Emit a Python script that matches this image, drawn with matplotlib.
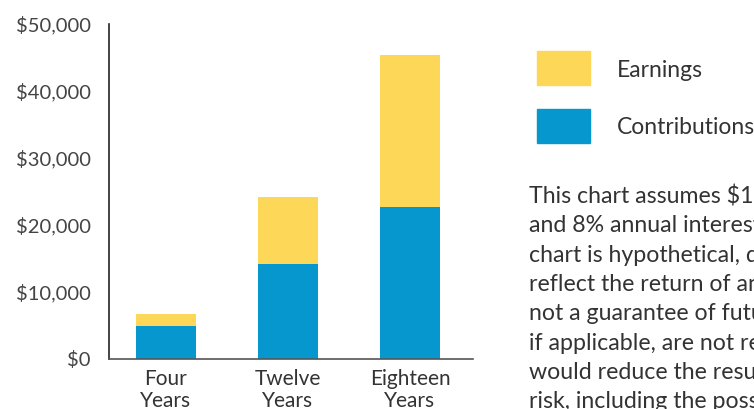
import matplotlib.pyplot as plt
from matplotlib.patches import Rectangle
from matplotlib.ticker import FuncFormatter

plt.rcParams["font.family"] = ["Lato", "DejaVu Sans"]

# data
periods = ["Four\nYears", "Twelve\nYears", "Eighteen\nYears"]
contributions = [4900, 14200, 22700]
earnings = [1800, 10000, 22700]

yticks = [0, 10000, 20000, 30000, 40000, 50000]

series_labels = ["Earnings", "Contributions"]

note_lines = [
    "This chart assumes $100 monthly contributions",
    "and 8% annual interest compounded monthly. This",
    "chart is hypothetical, does not",
    "reflect the return of any investment, and is",
    "not a guarantee of future results. Fees and expenses,",
    "if applicable, are not reflected and",
    "would reduce the results shown. Investing involves",
    "risk, including the possible loss of principal.",
]

YELLOW = "#FDD757"
BLUE = "#0797CF"
TEXT = "#333333"

W, H = 754, 409
fig = plt.figure(figsize=(W / 100, H / 100), dpi=100)
ax = fig.add_axes([109 / W, 1 - 359 / H, 364 / W, 335 / H])

xs = list(range(len(periods)))
ax.bar(xs, contributions, width=0.49, color=BLUE, zorder=2)
ax.bar(xs, earnings, width=0.49, bottom=contributions, color=YELLOW, zorder=2)

ax.set_xlim(-0.467, 2.516)
ax.set_ylim(0, 50000)
ax.set_yticks(yticks)
ax.yaxis.set_major_formatter(FuncFormatter(lambda v, _: f"${v:,.0f}"))
ax.set_xticks(xs)
ax.set_xticklabels(periods, fontsize=15, color=TEXT, linespacing=1.12)
ax.tick_params(axis="y", length=0, pad=13, labelsize=14.5, labelcolor="#444444")
ax.tick_params(axis="x", length=0, pad=7)

for s in ("top", "right"):
    ax.spines[s].set_visible(False)
ax.spines["left"].set_color("#222222")
ax.spines["left"].set_linewidth(1.2)
ax.spines["bottom"].set_color("#555555")
ax.spines["bottom"].set_linewidth(1.2)

# legend swatches + labels, laid out by hand
fs = 16.5
for (label, color, top, baseline) in zip(series_labels, [YELLOW, BLUE], [51, 109], [77, 134]):
    fig.patches.append(Rectangle((537 / W, 1 - (top + 34) / H), 53 / W, 34 / H,
                                 transform=fig.transFigure, color=color))
    fig.text(617 / W, 1 - baseline / H, label, fontsize=fs, color=TEXT,
             va="baseline", ha="left")

first_baseline = 203
step = 29.3
for i, line in enumerate(note_lines):
    fig.text(529 / W, 1 - (first_baseline + i * step) / H, line,
             fontsize=16.7, color=TEXT, va="baseline", ha="left")

fig.savefig("out.png", dpi=100)
